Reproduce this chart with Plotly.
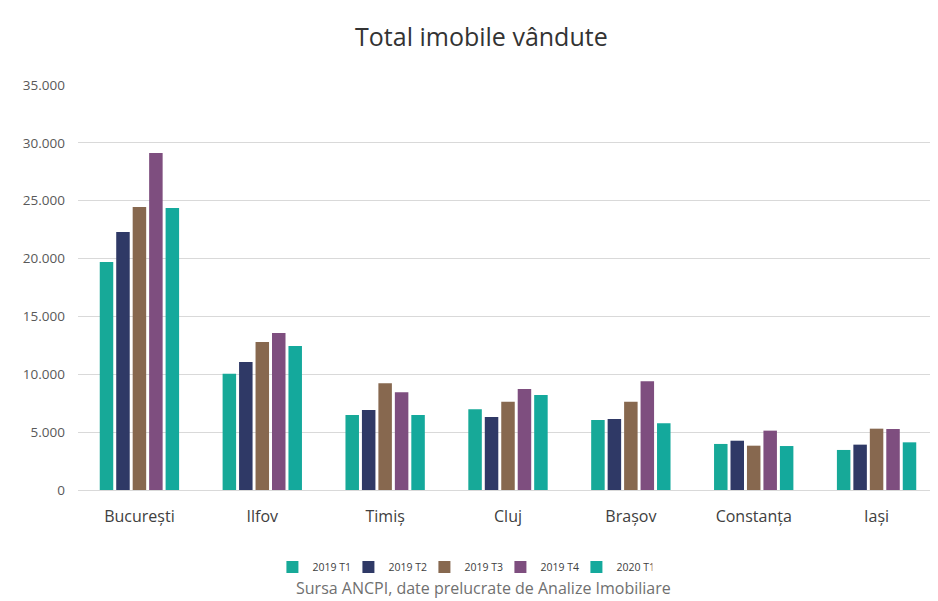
import plotly.graph_objects as go

categories = ["București", "Ilfov", "Timiș", "Cluj", "Brașov", "Constanța", "Iași"]
series_names = ["2019 T1", "2019 T2", "2019 T3", "2019 T4", "2020 T1"]
v_2019_t1 = [19700, 10050, 6480, 6970, 6050, 3980, 3460]
v_2019_t2 = [22300, 11060, 6910, 6310, 6140, 4260, 3920]
v_2019_t3 = [24460, 12790, 9220, 7630, 7630, 3830, 5300]
v_2019_t4 = [29130, 13570, 8440, 8730, 9390, 5130, 5270]
v_2020_t1 = [24370, 12450, 6480, 8210, 5760, 3800, 4120]
values = [v_2019_t1, v_2019_t2, v_2019_t3, v_2019_t4, v_2020_t1]
colors = ["#17a998", "#2f3966", "#87684f", "#7e4e7f", "#14a99c"]
y_ticks = [0, 5000, 10000, 15000, 20000, 25000, 30000, 35000]

fig = go.Figure()
for name, vals, col in zip(series_names, values, colors):
    fig.add_trace(go.Bar(x=categories, y=vals, name=name, marker_color=col,
                         marker_line_width=0))

font_family = "'Open Sans', Lato, sans-serif"
fig.update_layout(
    width=930, height=593,
    paper_bgcolor="white", plot_bgcolor="white",
    separators=",.",
    margin=dict(l=70, r=0, t=77, b=111),
    barmode="group", bargap=0.33, bargroupgap=0.18,
    font=dict(family=font_family, color="#595959"),
    title=dict(text="Total imobile vândute", x=0.509, xanchor="center", y=0.95, yanchor="middle",
               font=dict(size=25, color="#333333", family=font_family)),
    legend=dict(orientation="h", x=0.447, xanchor="center", y=-0.19, yanchor="middle",
                font=dict(size=10.5, color="#404040"), itemwidth=30,
                entrywidth=31, entrywidthmode="pixels", traceorder="normal"),
    annotations=[dict(text="Sursa ANCPI, date prelucrate de Analize Imobiliare",
                      xref="paper", yref="paper", x=0.472, y=-0.243, xanchor="center",
                      yanchor="middle", showarrow=False,
                      font=dict(size=16, color="#707070", family=font_family))],
)
fig.update_yaxes(range=[0, 35000], tickvals=y_ticks, tickformat=",d",
                 showgrid=True, gridcolor="#d9d9d9", gridwidth=1, zeroline=True,
                 zerolinecolor="#d9d9d9", zerolinewidth=1, showline=False,
                 ticks="", ticklabelstandoff=12, tickfont=dict(size=13.5, color="#595959"))
fig.update_xaxes(showgrid=False, showline=False, ticks="",
                 tickfont=dict(size=16, color="#404040"), ticklabelstandoff=15)

fig.write_html("out.html")
